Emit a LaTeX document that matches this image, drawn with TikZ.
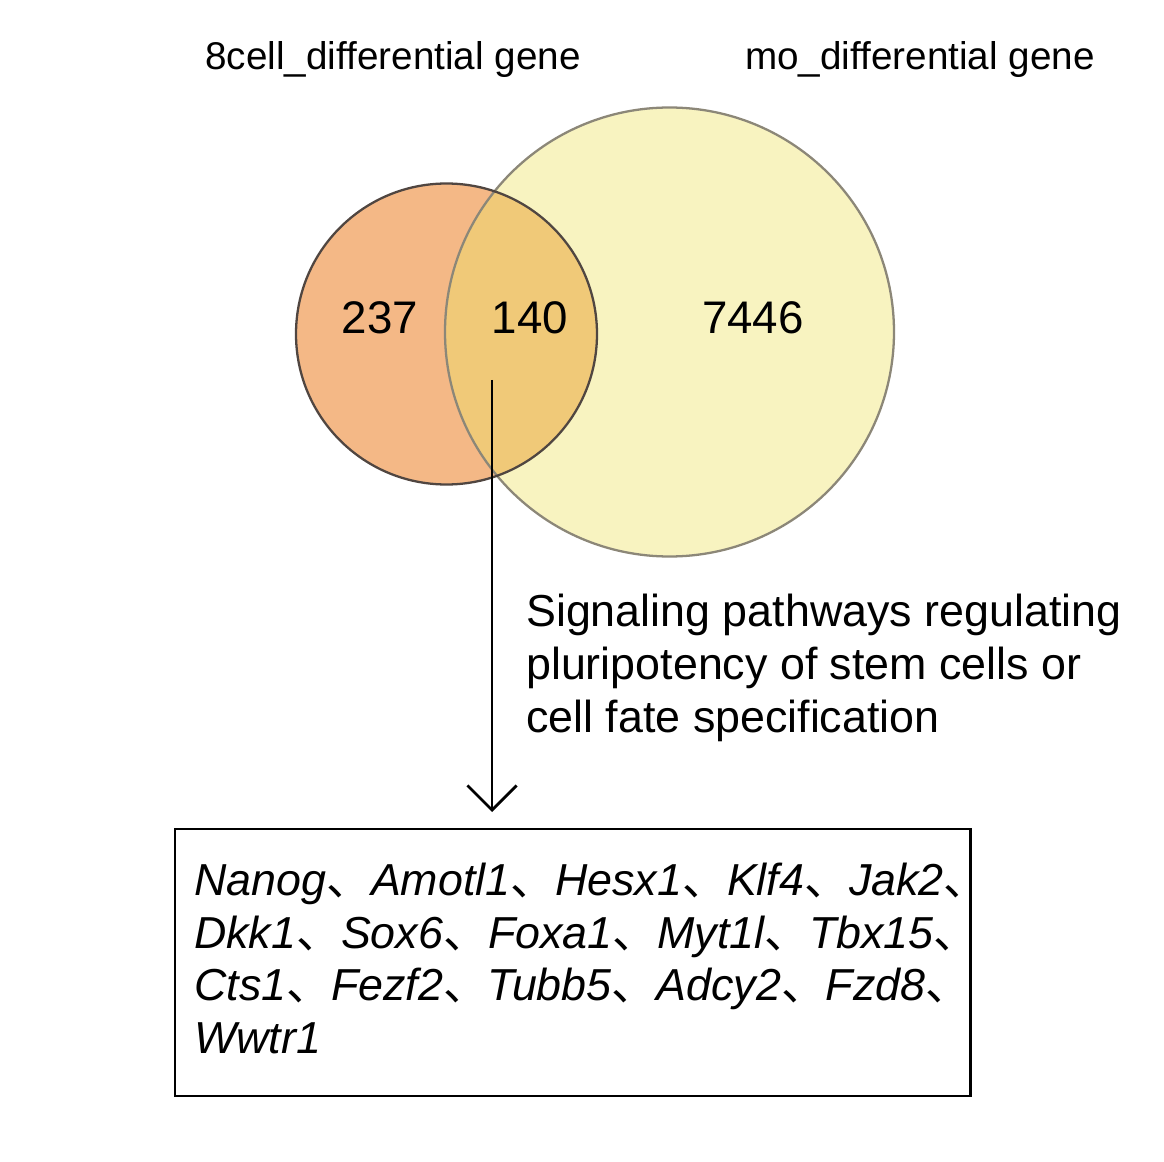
\documentclass[tikz,border=0pt]{standalone}
\usepackage{fontspec}
\setmainfont{Liberation Sans}
\newfontfamily\cjk{Noto Sans CJK SC}
\newcommand\dn{{\upshape\cjk 、}}
\usetikzlibrary{arrows.meta}
\begin{document}
\begin{tikzpicture}[x=0.02cm,y=-0.02cm,
  title/.style={anchor=base,font=\fontsize{22}{26}\selectfont},
  num/.style={anchor=base,font=\fontsize{26}{30}\selectfont},
  desc/.style={anchor=base west,font=\fontsize{25.5}{30}\selectfont},
  gene/.style={anchor=base west,font=\fontsize{25.5}{30}\selectfont\itshape}]
\useasboundingbox (0,0) rectangle (1164,1162);
\fill[white] (0,0) rectangle (1164,1162);
\node[title] (t1) at (393,70) {8cell\_differential gene};
\node[title] (t2) at (920,70) {mo\_differential gene};
\fill[fill={rgb,255:red,248;green,243;blue,192}] (669.5,332) circle (224.5);
\fill[fill={rgb,255:red,244;green,184;blue,134}] (446.5,334) circle (150.5);
\begin{scope}
\clip (669.5,332) circle (224.5);
\fill[fill={rgb,255:red,240;green,201;blue,120}] (446.5,334) circle (150.5);
\end{scope}
\draw[line width=1.3pt,color={rgb,255:red,140;green,135;blue,120}] (669.5,332) circle (224.5);
\draw[line width=1.3pt,color={rgb,255:red,80;green,70;blue,65}] (446.5,334) circle (150.5);
\node[num] (n1) at (380,334) {237};
\node[num] (n2) at (530,334) {140};
\node[num] (n3) at (753,334) {7446};
\coordinate (a0) at (492,380);
\coordinate (a1) at (492,812);
\draw[line width=1.6pt,-{Straight Barb[length=14pt,width=28pt,line width=1.6pt]}] (a0) -- (a1);
\node[desc] (d1) at (520,626) {Signaling pathways regulating};
\node[desc] (d2) at (520,679) {pluripotency of stem cells or};
\node[desc] (d3) at (520,732) {cell fate specification};
\draw[line width=1.7pt] (175,829) rectangle (970,1096);
\node[gene] (g1) at (188,895) {Nanog\dn Amotl1\dn Hesx1\dn Klf4\dn Jak2\dn};
\node[gene] (g2) at (188,948) {Dkk1\dn Sox6\dn Foxa1\dn Myt1l\dn Tbx15\dn};
\node[gene] (g3) at (188,1000) {Cts1\dn Fezf2\dn Tubb5\dn Adcy2\dn Fzd8\dn};
\node[gene] (g4) at (188,1053) {Wwtr1};
\end{tikzpicture}
\end{document}
